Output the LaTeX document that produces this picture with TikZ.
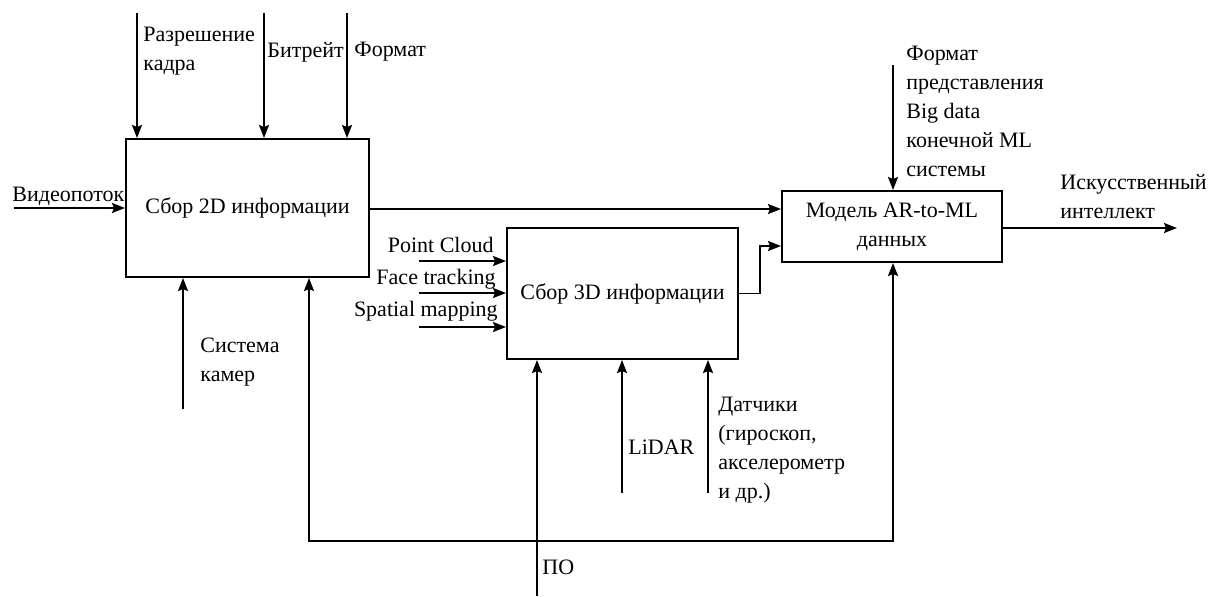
\documentclass[tikz,border=0pt]{standalone}
\usepackage{fontspec}
\setmainfont{Liberation Serif}
\usetikzlibrary{positioning,arrows.meta}

\tikzset{
	blok/.style={draw, line width=1pt, align=center, font=\fontsize{11}{14.5}\selectfont},
	strelka/.style={-{Stealth[length=6.5pt,width=5pt,inset=1pt]}, line width=0.9pt},
	metka/.style={inner sep=0pt, align=left, font=\fontsize{11}{14.5}\selectfont},
}

\begin{document}
\begin{tikzpicture}[x=0.5pt, y=-0.5pt]
	\useasboundingbox (0,0) rectangle (1208,596);

	% Блоки
	\node[blok, minimum width=121.5pt, minimum height=69pt] (sbor2d) at (247.5,208) {Сбор 2D информации};
	\node[blok, minimum width=115.5pt, minimum height=65.5pt] (sbor3d) at (622.5,293.5) {Сбор 3D информации};
	\node[blok, minimum width=110pt, minimum height=35.5pt] (model) at (892,226.5) {Модель AR-to-ML\\данных};

	% Свободные концы стрелок
	\coordinate (razr) at (137,13);
	\coordinate (bitr) at (264,13);
	\coordinate (form) at (347,13);
	\coordinate (video) at (14,208);
	\coordinate (kamery) at (183,409);
	\coordinate (pcloud) at (419,261);
	\coordinate (face) at (419,293);
	\coordinate (spatial) at (419,327);
	\coordinate (po) at (537,596);
	\coordinate (lidar) at (622,493);
	\coordinate (datch) at (708,493);
	\coordinate (formml) at (893,65);
	\coordinate (ii) at (1177,228);
	\coordinate (izlom) at (760,246);
	\coordinate (razv) at (537,541);
	\coordinate (razvL) at (309,541);
	\coordinate (razvR) at (893,541);

	% Стрелки к блоку 2D
	\draw[strelka] (razr) -- (razr |- sbor2d.north);
	\draw[strelka] (bitr) -- (bitr |- sbor2d.north);
	\draw[strelka] (form) -- (form |- sbor2d.north);
	\draw[strelka] (video) -- (sbor2d.west);
	\draw[strelka] (kamery) -- (kamery |- sbor2d.south);

	% Стрелки к блоку 3D
	\draw[strelka] (pcloud) -- (pcloud -| sbor3d.west);
	\draw[strelka] (face) -- (face -| sbor3d.west);
	\draw[strelka] (spatial) -- (spatial -| sbor3d.west);
	\draw[strelka] (po) -- (po |- sbor3d.south);
	\draw[strelka] (lidar) -- (lidar |- sbor3d.south);
	\draw[strelka] (datch) -- (datch |- sbor3d.south);

	% ПО ко всем блокам
	\draw[strelka] (razv) -- (razvL) -- (razvL |- sbor2d.south);
	\draw[strelka] (razv) -- (razvR) -- (razvR |- model.south);

	% Стрелки к модели
	\draw[strelka] (sbor2d.east |- 0,209) -- (model.west |- 0,209);
	\draw[strelka] (sbor3d.east) -| (izlom) -- (izlom -| model.west);
	\draw[strelka] (formml) -- (formml |- model.north);
	\draw[strelka] (model.east |- ii) -- (ii);

	% Подписи
	\node[metka, anchor=west] (lrazr) at (143,51) {Разрешение\\кадра};
	\node[metka, anchor=west] (lbitr) at (267,52) {Битрейт};
	\node[metka, anchor=west] (lform) at (354,52) {Формат};
	\node[metka, anchor=west] (lvideo) at (12,196) {Видеопоток};
	\node[metka, anchor=west] (lkamery) at (200,362) {Система\\камер};
	\node[metka, anchor=east] (lpcloud) at (494,245) {Point Cloud};
	\node[metka, anchor=east] (lface) at (496,279) {Face tracking};
	\node[metka, anchor=east] (lspatial) at (498,311) {Spatial mapping};
	\node[metka, anchor=west] (lpo) at (542,567) {ПО};
	\node[metka, anchor=west] (llidar) at (628,447) {LiDAR};
	\node[metka, anchor=west] (ldatch) at (718,450) {Датчики\\(гироскоп,\\акселерометр\\и др.)};
	\node[metka, anchor=west] (lformml) at (906,111) {Формат\\представления\\Big data\\конечной ML\\системы};
	\node[metka, anchor=west] (lii) at (1060,197) {Искусственный\\интеллект};
\end{tikzpicture}
\end{document}
